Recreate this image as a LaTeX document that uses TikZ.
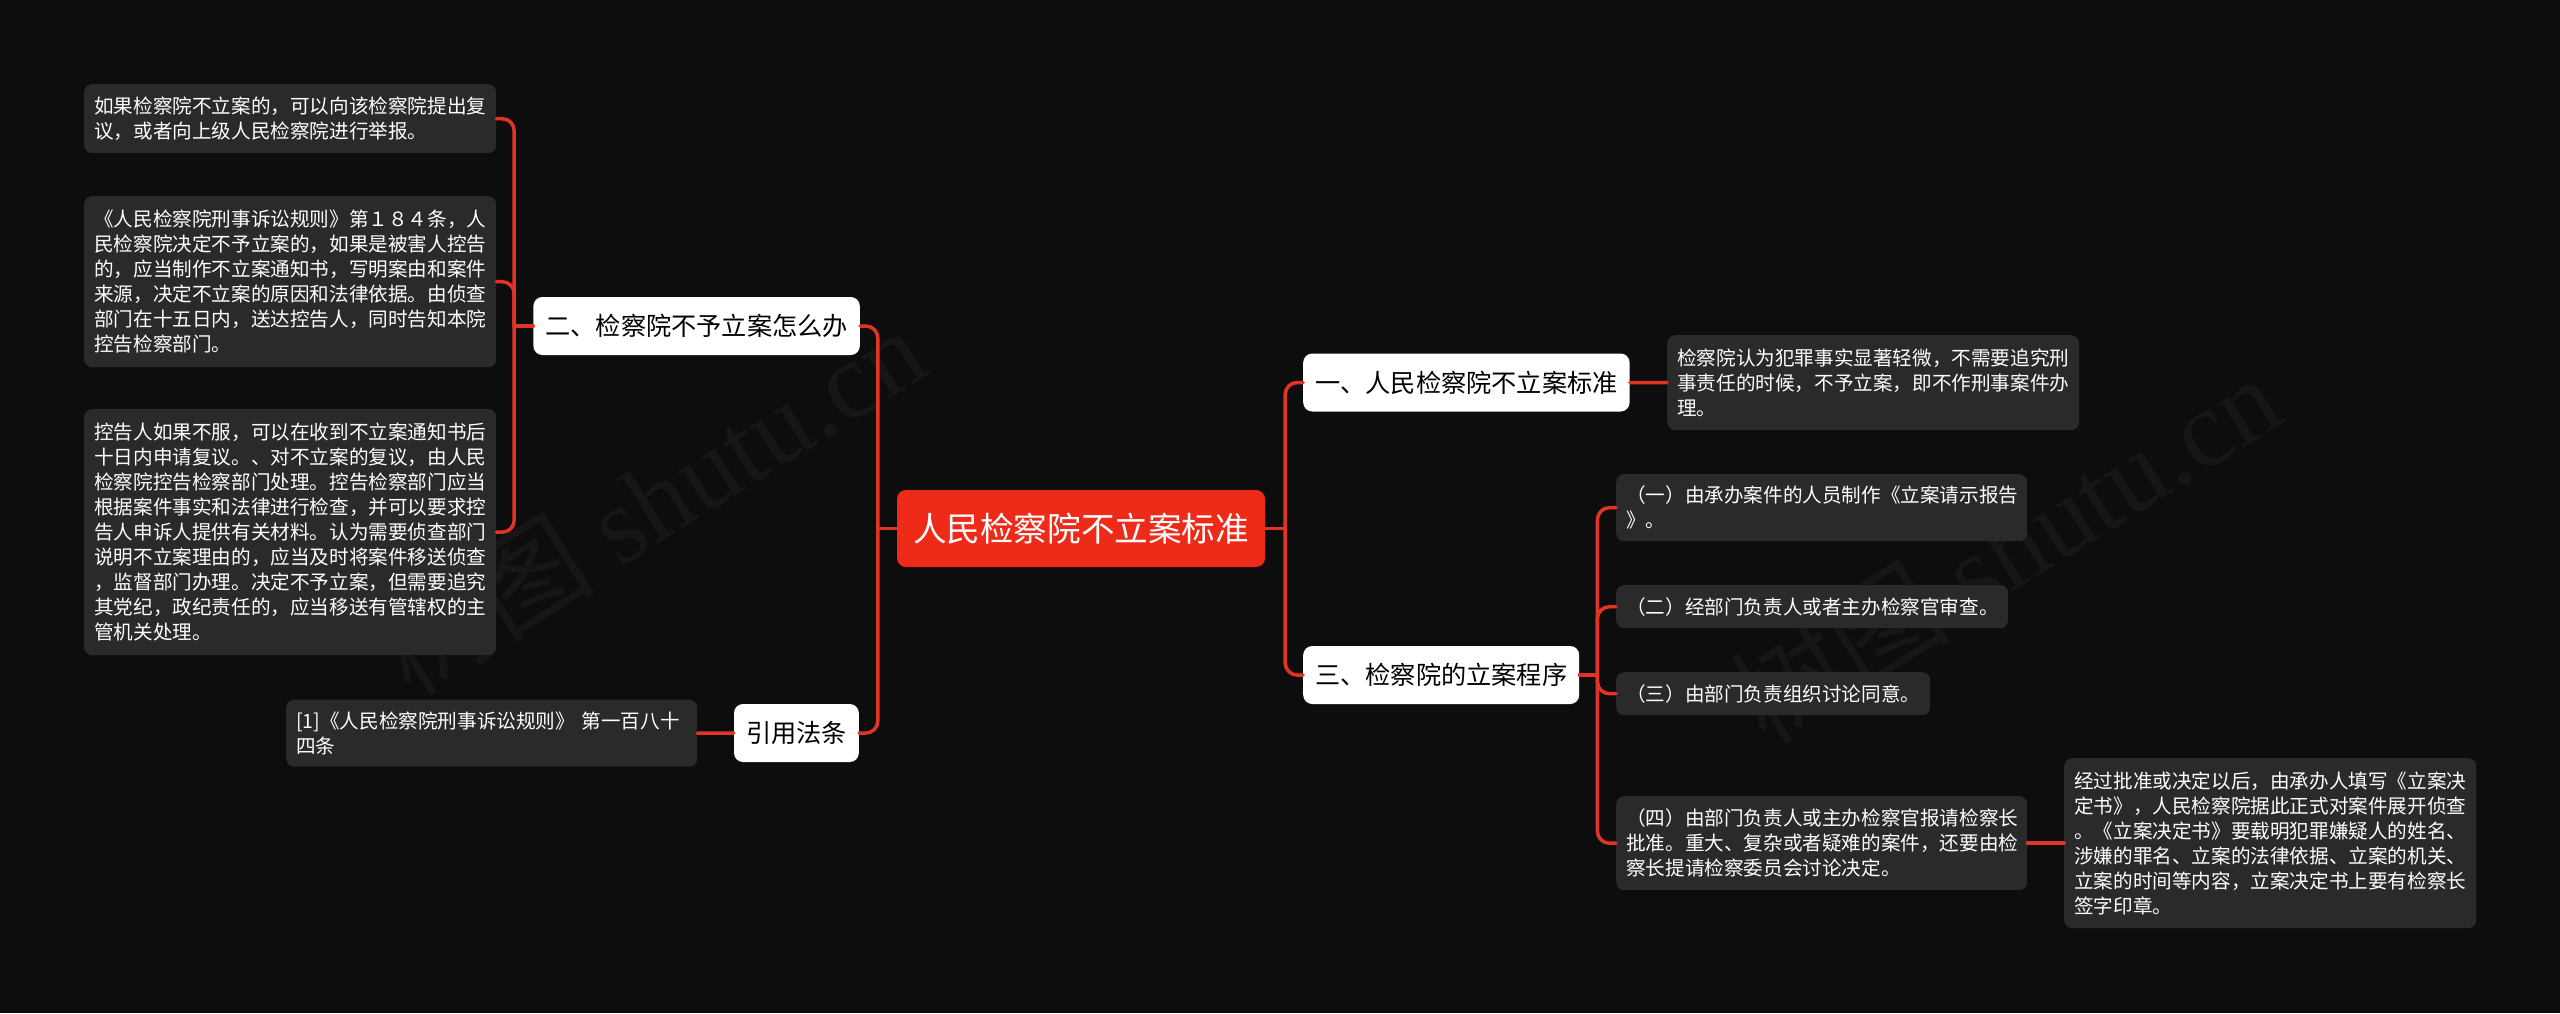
\documentclass[tikz,border=0pt]{standalone}
\usepackage{fontspec}
\setmainfont{Noto Sans CJK SC}
\newfontfamily\wmlatin{Liberation Serif}
\usetikzlibrary{calc}
\definecolor{bgcol}{RGB}{13,13,14}
\definecolor{boxgray}{RGB}{42,42,42}
\definecolor{linered}{RGB}{226,52,36}
\definecolor{rootred}{RGB}{238,43,25}
\definecolor{wmcol}{RGB}{22,22,23}
\tikzset{
  conn/.style={draw=linered, line width=3.5pt, rounded corners=12pt, line cap=round},
  detail/.style={fill=boxgray, rounded corners=8pt, text=white, align=left,
    font=\fontsize{19.6}{25}\selectfont, inner xsep=10pt, inner ysep=0pt, anchor=north west},
  mainbox/.style={fill=white, rounded corners=9pt, text=black,
    font=\fontsize{25.2}{30}\selectfont, inner xsep=12pt, inner ysep=0pt, minimum height=58pt},
  rootbox/.style={fill=rootred, rounded corners=9pt, text=white,
    font=\fontsize{33.6}{38}\selectfont, inner xsep=16pt, inner ysep=0pt, minimum height=77pt},
  wmark/.style={text=wmcol, rotate=32, font=\fontsize{110}{120}\selectfont}
}
\begin{document}
\begin{tikzpicture}[x=1pt,y=-1pt]
\fill[bgcol] (0,0) rectangle (2560,1013);
\useasboundingbox (0,0) rectangle (2560,1013);
% watermarks
\node[wmark] (wm1) at (650,500) {树图 {\wmlatin shutu.cn}};
\node[wmark] (wm2) at (2005,548) {树图 {\wmlatin shutu.cn}};
% root
\node[rootbox] (root) at (1081,528.5) {人民检察院不立案标准};
% main branches
\node[mainbox, anchor=west] (b1) at (1303,382.5) {一、人民检察院不立案标准};
\node[mainbox, anchor=west] (b3) at (1303,675) {三、检察院的立案程序};
\node[mainbox, anchor=east] (b2) at (860,326) {二、检察院不予立案怎么办};
\node[mainbox, anchor=east] (b4) at (859,733) {引用法条};
% left details
\node[detail, text width=392pt, minimum height=69pt] (d1) at (84,84)
  {如果检察院不立案的，可以向该检察院提出复\\议，或者向上级人民检察院进行举报。};
\node[detail, text width=392pt, minimum height=171pt] (d2) at (84,196)
  {《人民检察院刑事诉讼规则》第１８４条，人\\民检察院决定不予立案的，如果是被害人控告\\的，应当制作不立案通知书，写明案由和案件\\来源，决定不立案的原因和法律依据。由侦查\\部门在十五日内，送达控告人，同时告知本院\\控告检察部门。};
\node[detail, text width=392pt, minimum height=246pt] (d3) at (84,409)
  {控告人如果不服，可以在收到不立案通知书后\\十日内申请复议。、对不立案的复议，由人民\\检察院控告检察部门处理。控告检察部门应当\\根据案件事实和法律进行检查，并可以要求控\\告人申诉人提供有关材料。认为需要侦查部门\\说明不立案理由的，应当及时将案件移送侦查\\，监督部门办理。决定不予立案，但需要追究\\其党纪，政纪责任的，应当移送有管辖权的主\\管机关处理。};
\node[detail, text width=391pt, minimum height=67pt] (p1) at (286,699.5)
  {[1]《人民检察院刑事诉讼规则》 第一百八十\\四条};
% right details
\node[detail, text width=392pt, minimum height=95pt] (r1) at (1667,335)
  {检察院认为犯罪事实显著轻微，不需要追究刑\\事责任的时候，不予立案，即不作刑事案件办\\理。};
\node[detail, text width=391pt, minimum height=67pt] (c1) at (1616,474)
  {（一）由承办案件的人员制作《立案请示报告\\》。};
\node[detail, text width=372pt, minimum height=43pt] (c2) at (1616,585)
  {（二）经部门负责人或者主办检察官审查。};
\node[detail, text width=294pt, minimum height=43pt] (c3) at (1616,672)
  {（三）由部门负责组织讨论同意。};
\node[detail, text width=391pt, minimum height=94pt] (c4) at (1616,796)
  {（四）由部门负责人或主办检察官报请检察长\\批准。重大、复杂或者疑难的案件，还要由检\\察长提请检察委员会讨论决定。};
\node[detail, text width=392pt, minimum height=170pt] (e1) at (2064,758)
  {经过批准或决定以后，由承办人填写《立案决\\定书》，人民检察院据此正式对案件展开侦查\\。《立案决定书》要载明犯罪嫌疑人的姓名、\\涉嫌的罪名、立案的法律依据、立案的机关、\\立案的时间等内容，立案决定书上要有检察长\\签字印章。};
% connectors
\coordinate (busR) at ($(root.east)+(20,0)$);
\coordinate (busL) at ($(root.west)+(-19,0)$);
\coordinate (busB2) at ($(b2.west)+(-19,0)$);
\coordinate (busB3) at ($(b3.east)+(18,0)$);
\draw[conn] (root.east) -- (busR);
\draw[conn] (busR) |- (b1.west);
\draw[conn] (busR) |- (b3.west);
\draw[conn] (root.west) -- (busL);
\draw[conn] (busL) |- (b2.east);
\draw[conn] (busL) |- (b4.east);
\draw[conn] (b2.west) -- (busB2);
\draw[conn] (busB2) |- (d1.east);
\draw[conn] (busB2) |- (d2.east);
\draw[conn] (busB2) |- (d3.east);
\draw[conn] (b4.west) -- (p1.east);
\draw[conn] (b1.east) -- (r1.west);
\draw[conn] (b3.east) -- (busB3);
\draw[conn] (busB3) |- (c1.west);
\draw[conn] (busB3) |- (c2.west);
\draw[conn] (busB3) |- (c3.west);
\draw[conn] (busB3) |- (c4.west);
\draw[conn] (c4.east) -- (e1.west);
\end{tikzpicture}
\end{document}
